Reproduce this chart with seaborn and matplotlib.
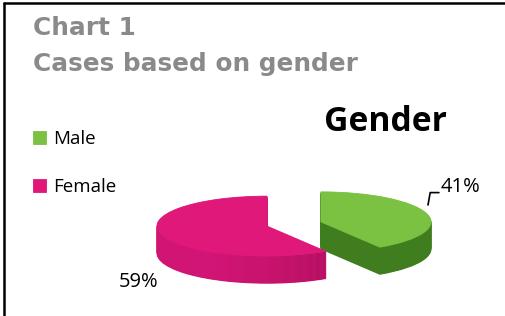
import matplotlib
matplotlib.use("Agg")
import matplotlib.pyplot as plt
from matplotlib.lines import Line2D
from matplotlib.colors import LinearSegmentedColormap
import numpy as np
import seaborn as sns

# ---- data ----
genders = ["Male", "Female"]
shares = [41, 59]
pct_labels = [f"{v}%" for v in shares]
chart_title = "Chart 1\nCases based on gender"
pie_title = "Gender"

# ---- style ----
top_colors = ["#7cc242", "#df187a"]
side_colors = ["#3f7d1e", "#cf1573"]

sns.set_theme(style="white")
plt.rcParams["font.family"] = ["Open Sans", "DejaVu Sans"]

W, H = 505, 316
fig = plt.figure(figsize=(W / 100, H / 100), dpi=100)
fig.patch.set_facecolor("white")
ax = fig.add_axes([0, 0, 1, 1])

cx, cy = 294, 224   # pie centre in pixels (from top-left)
rx, ry = 110, 30    # ellipse radii in pixels
depth = 27


def px(x, y):
    return ((x - cx) / rx, (cy - y) / ry)


explode = [0.255, 0.255]
pink_side = LinearSegmentedColormap.from_list(
    "pink_side", ["#d8177a", "#d4157a", "#c01366", "#9c0e55"])
grad = np.linspace(0, 1, 256)[None, :]
gx0, _ = px(157, 0)
gx1, _ = px(328, 0)

# side (extrusion) layers
for k in range(depth, 0, -1):
    wedges, _ = ax.pie(shares, explode=explode, startangle=90, counterclock=False,
                       colors=side_colors, center=(0, -k / ry),
                       wedgeprops=dict(linewidth=0.8))
    for w in wedges:
        w.set_edgecolor(w.get_facecolor())
    im = ax.imshow(grad, cmap=pink_side, aspect="auto", zorder=1,
                   extent=(gx0, gx1, -3, 3), interpolation="bilinear")
    im.set_clip_path(wedges[1])

# top faces
top_wedges, _ = ax.pie(shares, explode=explode, startangle=90, counterclock=False,
                       colors=top_colors, center=(0, 0),
                       wedgeprops=dict(linewidth=0.6))
for w in top_wedges:
    w.set_edgecolor(w.get_facecolor())

ax.set_aspect("auto")
ax.set_xlim(-cx / rx, (W - cx) / rx)
ax.set_ylim((cy - H) / ry, cy / ry)
ax.axis("off")

# percentage labels
ax.annotate(pct_labels[0], xy=px(428, 205), xytext=px(441, 187),
            ha="left", va="center", fontsize=14.5, color="black",
            arrowprops=dict(arrowstyle="-", color="black", lw=1.2,
                            relpos=(0, 0.22), shrinkA=1.5, shrinkB=0,
                            patchA=None,
                            connectionstyle="angle,angleA=180,angleB=80,rad=0"))
ax.text(*px(139, 282), pct_labels[1], ha="center", va="center",
        fontsize=14.5, color="black")

# legend
leg = ax.legend(top_wedges, genders, loc="upper left",
                bbox_to_anchor=(33 / W, 1 - 130 / H), bbox_transform=fig.transFigure,
                frameon=False, fontsize=13.5, handlelength=0.7, handleheight=0.7,
                handletextpad=0.35, labelspacing=1.62, borderpad=0, borderaxespad=0)
for t in leg.get_texts():
    t.set_color("black")

# titles
fig.text(33 / W, 1 - 16 / H, chart_title, ha="left", va="top",
         fontsize=17.8, fontweight="bold", color="#8a8a8a",
         family="DejaVu Sans", linespacing=1.62)
fig.text(385 / W, 1 - 122 / H, pie_title, ha="center", va="center",
         fontsize=24.2, fontweight="bold", color="black")

# frame lines (top and left)
fig.add_artist(Line2D([4 / W, 1], [1 - 3 / H, 1 - 3 / H],
                      transform=fig.transFigure, color="black", lw=1.8))
fig.add_artist(Line2D([4 / W, 4 / W], [0, 1 - 3 / H],
                      transform=fig.transFigure, color="black", lw=1.8))

fig.savefig("out.png", dpi=100, facecolor="white")
